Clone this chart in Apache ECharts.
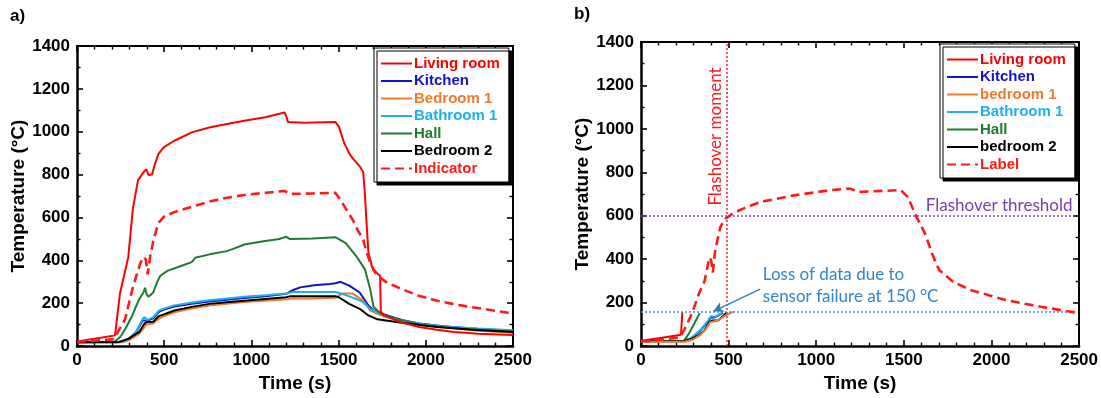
<!DOCTYPE html>
<html><head><meta charset="utf-8">
<script src="https://cdn.jsdelivr.net/npm/echarts@6/dist/echarts.min.js"></script>
<style>html,body{margin:0;padding:0;background:#fff}#c{width:1101px;height:398px}</style>
</head><body><div id="c"></div>
<script>
// ---------- data (time s, temperature °C) ----------
const xTicks = [0, 500, 1000, 1500, 2000, 2500];
const yTicks = [0, 200, 400, 600, 800, 1000, 1200, 1400];

// panel a)
const livingA = [[0,22],[100,34],[218,50],[246,244],[294,415],[321,645],[350,774],[385,815],[398,825],[410,798],[430,800],[447,850],[467,897],[498,928],[558,958],[658,997],[758,1020],[860,1036],[959,1051],[1080,1068],[1190,1090],[1200,1072],[1210,1045],[1300,1042],[1481,1046],[1501,1025],[1531,950],[1560,900],[1581,876],[1620,840],[1641,812],[1650,720],[1657,620],[1671,435],[1690,375],[1701,358],[1720,340],[1738,328],[1742,160],[1762,143],[1862,110],[1962,89],[2063,76],[2163,66],[2300,58],[2500,52]];
const kitchenA = [[0,18],[250,20],[277,24],[310,42],[337,62],[360,95],[377,120],[400,118],[437,130],[470,160],[498,170],[558,185],[658,198],[758,208],[859,216],[959,224],[1080,232],[1200,244],[1240,262],[1280,274],[1360,284],[1450,290],[1481,293],[1511,300],[1561,282],[1621,250],[1671,189],[1701,166],[1762,148],[1862,122],[1962,106],[2100,93],[2300,80],[2500,72]];
const bedroom1A = [[0,18],[260,18],[300,28],[357,58],[380,80],[397,100],[437,105],[470,128],[498,140],[558,158],[658,175],[758,189],[859,198],[959,206],[1080,212],[1200,218],[1240,222],[1350,222],[1481,225],[1521,245],[1581,245],[1641,212],[1681,166],[1762,138],[1862,118],[1962,102],[2100,88],[2300,72],[2500,62]];
const bathroomA = [[0,18],[250,20],[277,25],[310,45],[337,66],[360,100],[377,128],[390,135],[400,122],[420,128],[437,135],[470,166],[498,175],[558,190],[658,203],[758,214],[859,222],[959,230],[1080,237],[1200,245],[1240,252],[1350,252],[1481,252],[1541,238],[1601,220],[1641,205],[1681,174],[1720,158],[1762,143],[1862,120],[1962,105],[2100,92],[2300,82],[2500,74]];
const hallA = [[0,18],[217,20],[250,45],[277,80],[317,143],[357,220],[381,250],[390,272],[400,240],[410,230],[437,250],[460,300],[478,328],[518,351],[600,375],[658,392],[678,412],[760,428],[859,443],[900,455],[959,474],[1060,488],[1160,500],[1200,510],[1220,500],[1350,502],[1481,508],[1541,480],[1601,420],[1651,358],[1670,300],[1681,266],[1701,182],[1742,151],[1800,135],[1862,120],[1962,102],[2063,92],[2200,82],[2350,74],[2500,68]];
const bedroom2A = [[0,18],[237,18],[297,35],[357,66],[387,105],[400,112],[437,114],[470,140],[498,148],[558,166],[658,183],[758,197],[859,205],[959,212],[1080,220],[1200,228],[1220,232],[1350,232],[1481,233],[1501,228],[1561,197],[1621,174],[1671,143],[1722,125],[1862,109],[1962,98],[2063,89],[2250,78],[2500,66]];
const indicatorA = [[0,20],[100,25],[210,32],[275,124],[321,276],[361,382],[380,415],[395,405],[405,335],[420,420],[440,500],[467,574],[500,605],[558,625],[658,650],[758,674],[859,692],[959,705],[1080,715],[1190,724],[1220,710],[1350,712],[1481,715],[1511,682],[1550,630],[1581,589],[1610,540],[1641,497],[1660,440],[1681,389],[1700,355],[1722,328],[1780,295],[1862,266],[1960,235],[2063,212],[2163,195],[2263,182],[2380,167],[2500,152]];

// panel b)
const livingB = [[0,25],[120,38],[228,52],[236,155]];
const kitchenB = [[0,22],[245,23],[290,38],[340,72],[380,110],[400,132],[420,132],[445,143],[468,154]];
const bedroom1B = [[0,20],[250,20],[290,28],[340,52],[370,78],[395,110],[440,118],[480,140],[500,148],[525,158]];
const bathroomB = [[0,22],[245,23],[290,40],[340,75],[380,115],[400,138],[420,135],[445,145],[465,155]];
const hallB = [[0,22],[245,24],[275,60],[305,105],[335,152]];
const bedroom2B = [[0,22],[240,22],[280,30],[330,50],[360,70],[390,110],[410,118],[440,118],[470,140],[490,155]];
const labelB = [[0,22],[120,30],[222,40],[260,95],[295,160],[330,240],[363,300],[390,408],[400,395],[410,339],[423,440],[453,549],[483,587],[523,610],[583,633],[683,664],[882,695],[1082,718],[1192,725],[1242,710],[1482,718],[1522,687],[1572,595],[1621,518],[1661,426],[1701,350],[1781,296],[1881,258],[2081,212],[2281,181],[2500,152]];

const flashoverTime = 490;
const flashoverThreshold = 600;
const sensorLimit = 157;

// ---------- styling ----------
const FONT = '"Liberation Sans", Arial, sans-serif';
const NOTE = 'Lato, "Open Sans", sans-serif';
const C = {living:'#ff0000', kitchen:'#1212cc', bed1:'#ee7a30', bath:'#1eb0ea', hall:'#1f7a32', bed2:'#000000', ind:'#ff1a1a'};

const chart = echarts.init(document.getElementById('c'), null, {renderer:'canvas'});

function xAx(grid, top){
  return {
    type:'value', gridIndex:grid, position: top ? 'top' : 'bottom', min:0, max:2500, interval:500,
    axisLine:{show:true, onZero:false, lineStyle:{color:'#000', width: top ? 2 : 2.5}},
    axisTick:{show:true, inside:true, length:6, lineStyle:{color:'#000', width:1.6}},
    minorTick:{show:true, splitNumber:5, length:3.5, lineStyle:{color:'#000', width:1.4}},
    axisLabel:{show:!top, margin:6, color:'#000', fontFamily:FONT, fontWeight:'bold', fontSize:17,
      formatter: v => xTicks.indexOf(v) >= 0 ? String(v) : ''},
    splitLine:{show:false},
    name: top ? '' : 'Time (s)', nameLocation:'middle', nameGap:27,
    nameTextStyle:{color:'#000', fontFamily:FONT, fontWeight:'bold', fontSize:19}
  };
}
function yAx(grid, right){
  return {
    type:'value', gridIndex:grid, position: right ? 'right' : 'left', min:0, max:1400, interval:200,
    axisLine:{show:true, onZero:false, lineStyle:{color:'#000', width: right ? 2 : 2.5}},
    axisTick:{show:true, inside:true, length:6, lineStyle:{color:'#000', width:1.6}},
    minorTick:{show:true, splitNumber:2, length:3.5, lineStyle:{color:'#000', width:1.4}},
    axisLabel:{show:!right, margin:7, color:'#000', fontFamily:FONT, fontWeight:'bold', fontSize:17,
      formatter: v => yTicks.indexOf(v) >= 0 ? String(v) : ''},
    splitLine:{show:false},
    name: right ? '' : 'Temperature (\u00B0C)', nameLocation:'middle', nameGap:46,
    nameTextStyle:{color:'#000', fontFamily:FONT, fontWeight:'bold', fontSize:19}
  };
}
function ln(name, data, color, xi, dashed, z){
  return {
    type:'line', name:name, data:data, xAxisIndex:xi, yAxisIndex:xi, symbol:'none', z:z||2,
    lineStyle:{color:color, width: dashed ? 2.6 : 2, type: dashed ? [9,5] : 'solid'},
    itemStyle:{color:color}, animation:false
  };
}
function legendCfg(left, top, names, colors){
  return {
    orient:'vertical', left:left, top:top, itemWidth:31, itemHeight:14, itemGap:2.5,
    padding:[8,9,6,6], backgroundColor:'#fff', borderColor:'#000', borderWidth:1,
    shadowColor:'#000', shadowOffsetX:3, shadowOffsetY:3, shadowBlur:0,
    selectedMode:false,
    itemStyle:{color:'rgba(0,0,0,0)', borderColor:'rgba(0,0,0,0)', borderWidth:0, opacity:0},
    textStyle:{fontFamily:FONT, fontWeight:'bold', fontSize:15, padding:[0,0,0,-3]},
    data: names.map((n,i) => ({name:n, textStyle:{color:colors[i]}}))
  };
}

const option = {
  backgroundColor:'#fff',
  animation:false,
  grid:[
    {left:77, top:46, width:436, height:304},
    {left:641, top:42, width:439, height:306}
  ],
  xAxis:[xAx(0,false), xAx(0,true), xAx(1,false), xAx(1,true)],
  yAxis:[yAx(0,false), yAx(0,true), yAx(1,false), yAx(1,true)],
  legend:[
    legendCfg(374, 48, ['Living room','Kitchen','Bedroom 1','Bathroom 1','Hall','Bedroom 2','Indicator'],
      [C.living, C.kitchen, C.bed1, C.bath, C.hall, C.bed2, C.ind]),
    legendCfg(940, 44, ['Living room','Kitchen','bedroom 1','Bathroom 1','Hall','bedroom 2','Label'],
      [C.living, C.kitchen, C.bed1, C.bath, C.hall, C.bed2, C.ind])
  ],
  series:[
    ln('Kitchen', kitchenA, C.kitchen, 0),
    ln('Bedroom 1', bedroom1A, C.bed1, 0),
    ln('Bathroom 1', bathroomA, C.bath, 0),
    ln('Hall', hallA, C.hall, 0),
    ln('Bedroom 2', bedroom2A, C.bed2, 0),
    ln('Living room', livingA, C.living, 0),
    ln('Indicator', indicatorA, C.ind, 0, true),

    ln('Kitchen', kitchenB, C.kitchen, 2),
    ln('Bathroom 1', bathroomB, C.bath, 2),
    ln('Hall', hallB, C.hall, 2),
    ln('bedroom 2', bedroom2B, C.bed2, 2),
    ln('bedroom 1', bedroom1B, C.bed1, 2),
    ln('Living room', livingB, C.living, 2),
    Object.assign(ln('Label', labelB, C.ind, 2, true), {
      markLine:{
        silent:true, animation:false, symbol:['none','none'], label:{show:false},
        data:[
          [{coord:[flashoverTime,0], lineStyle:{color:'#ff2020', type:[2,2], width:1.5}},{coord:[flashoverTime,1400]}],
          [{coord:[0,flashoverThreshold], lineStyle:{color:'#8a40c0', type:[2,2], width:1.5}},{coord:[2470,flashoverThreshold]}],
          [{coord:[0,sensorLimit], lineStyle:{color:'#3b8ed6', type:[2,2], width:1.5}},{coord:[2440,sensorLimit]}],
          [{coord:[680,262], symbol:'none', lineStyle:{color:'#2e7fc8', type:'solid', width:1.5}},{coord:[412,160], symbol:'arrow', symbolSize:[8,10]}]
        ]
      }
    })
  ]
};
chart.setOption(option);

// annotations anchored to data coordinates of panel b)
const P = (x, y) => chart.convertToPixel({xAxisIndex:2, yAxisIndex:2}, [x, y]);
const pMoment = P(flashoverTime, 965);
const pThr = P(2462, flashoverThreshold);
const pLoss = P(695, 330);
chart.setOption({
  graphic:[
    {type:'text', left:10, top:8, style:{text:'a)', font:'bold 17px ' + FONT, fill:'#000'}},
    {type:'text', left:574, top:6, style:{text:'b)', font:'bold 17px ' + FONT, fill:'#000'}},
    {type:'text', x:pMoment[0]-11, y:pMoment[1], rotation:Math.PI/2,
      style:{text:'Flashover moment', font:'17px ' + NOTE, fill:'#ff1a1a', align:'center', verticalAlign:'middle'}},
    {type:'text', x:pThr[0], y:pThr[1]-2,
      style:{text:'Flashover threshold', font:'17px ' + NOTE, fill:'#7a3cb0', align:'right', verticalAlign:'bottom'}},
    {type:'text', x:pLoss[0], y:pLoss[1]-11,
      style:{text:'Loss of data due to\nsensor failure at 150 \u00B0C', font:'17px ' + NOTE, lineHeight:22, fill:'#2e86d0', align:'left', verticalAlign:'top'}}
  ]
});
</script></body></html>
